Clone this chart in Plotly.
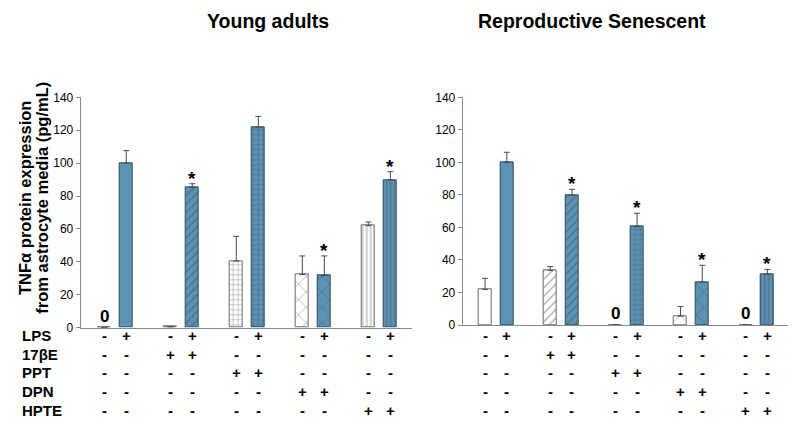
import plotly.graph_objects as go

# ---------------- data ----------------
slots = [0, 1, 3, 4, 6, 7, 9, 10, 12, 13]
young_mean = [0, 100, 0.6, 85.3, 40.5, 121.8, 32.4, 31.8, 62.0, 89.7]
young_err = [None, 7.6, None, 2.2, 15.0, 6.6, 11.2, 11.8, 2.2, 5.1]
sen_mean = [21.9, 100, 33.6, 79.7, 0, 60.5, 5.5, 26.4, 0, 31.2]
sen_err = [6.8, 6.2, 2.3, 3.7, None, 8.2, 5.8, 10.3, None, 3.0]

young_star = [3, 7, 9]
sen_star = [3, 5, 7, 9]
young_zero = [0]
sen_zero = [4, 8]

row_labels = ["LPS", "17βE", "PPT", "DPN", "HPTE"]
rows = [
    ["-", "+", "-", "+", "-", "+", "-", "+", "-", "+"],
    ["-", "-", "+", "+", "-", "-", "-", "-", "-", "-"],
    ["-", "-", "-", "-", "+", "+", "-", "-", "-", "-"],
    ["-", "-", "-", "-", "-", "-", "+", "+", "-", "-"],
    ["-", "-", "-", "-", "-", "-", "-", "-", "+", "+"],
]
yticks = [0, 20, 40, 60, 80, 100, 120, 140]
titles = ["Young adults", "Reproductive Senescent"]
ytitle_lines = ["TNFα protein expression", "from astrocyte media (pg/mL)"]

# ---------------- styles ----------------
BLUE = "#5b93b5"
shapes = ["", "", "/", "/", "+", "+", "x", "x", "|", "|"]
sizes = [6, 6, 6, 6, 5, 5, 11, 11, 4, 4]
solid = [0.2, 0.2, 0.2, 0.2, 0.22, 0.22, 0.12, 0.12, 0.25, 0.25]
fills = [("white" if r == "-" else BLUE) for r in rows[0]]
fgs = [("#3a3a3a" if r == "-" else "#17344a") for r in rows[0]]
edges = [("#6b6b6b" if r == "-" else "#2c4a5e") for r in rows[0]]
AX = "#8a8a8a"
FONT = "Arial, Liberation Sans, sans-serif"
W, H = 800, 432


def px_x(v):
    return v / W


def px_y(v):
    return 1 - v / H


def bar_trace(means, errs, xa, ya):
    return go.Bar(
        x=slots, y=means, xaxis=xa, yaxis=ya, width=0.6,
        marker=dict(color=fills, line=dict(color=edges, width=1),
                    pattern=dict(shape=shapes, size=sizes, fgcolor=fgs,
                                 solidity=solid, fillmode="overlay")),
        error_y=dict(type="data", symmetric=False, array=errs,
                     arrayminus=[0] * len(errs), color="#4a4a4a",
                     thickness=1, width=3),
        showlegend=False, hoverinfo="skip",
    )


fig = go.Figure()
fig.add_trace(bar_trace(young_mean, young_err, "x", "y"))
fig.add_trace(bar_trace(sen_mean, sen_err, "x2", "y2"))

ann = []
# stars
for means, errs, stars, xr, yr in [(young_mean, young_err, young_star, "x", "y"),
                                   (sen_mean, sen_err, sen_star, "x2", "y2")]:
    for i in stars:
        ann.append(dict(x=slots[i], y=means[i] + (errs[i] or 0), xref=xr, yref=yr,
                        text="<b>*</b>", showarrow=False, xanchor="center",
                        yanchor="bottom", yshift=-7,
                        font=dict(size=19, color="black", family=FONT)))
# zero labels
for zs, xr, yr in [(young_zero, "x", "y"), (sen_zero, "x2", "y2")]:
    for i in zs:
        ann.append(dict(x=slots[i], y=0, xref=xr, yref=yr, text="<b>0</b>",
                        showarrow=False, xanchor="center", yanchor="bottom",
                        yshift=0, font=dict(size=17, color="black", family=FONT)))

# condition table
row_y = [335, 354, 372.5, 391.5, 410.5]
for lbl, ypix in zip(row_labels, row_y):
    ann.append(dict(x=px_x(20), y=px_y(ypix), xref="paper", yref="paper",
                    text=f"<b>{lbl}</b>", showarrow=False, xanchor="left",
                    yanchor="middle", font=dict(size=15, color="black", family=FONT)))
for r, ypix in zip(rows, row_y):
    for xr in ["x", "x2"]:
        for s, sign in zip(slots, r):
            ann.append(dict(x=s, y=px_y(ypix), xref=xr, yref="paper",
                            text=f"<b>{sign}</b>", showarrow=False,
                            xanchor="center", yanchor="middle",
                            font=dict(size=15, color="black", family=FONT)))

# titles
for t, cx in zip(titles, [267.5, 592]):
    ann.append(dict(x=px_x(cx), y=px_y(20.5), xref="paper", yref="paper",
                    text=f"<b>{t}</b>", showarrow=False, xanchor="center",
                    yanchor="middle", font=dict(size=19.5, color="black", family=FONT)))
# y title (two lines)
for line, cx in zip(ytitle_lines, [25, 41.7]):
    ann.append(dict(x=px_x(cx), y=px_y(198), xref="paper", yref="paper",
                    text=f"<b>{line}</b>", showarrow=False, textangle=-90,
                    xanchor="center", yanchor="middle",
                    font=dict(size=16.5, color="black", family=FONT)))

xcommon = dict(showline=True, linecolor=AX, linewidth=1, showticklabels=False,
               ticks="", showgrid=False, zeroline=False, automargin=False)
ycommon = dict(showline=True, linecolor=AX, linewidth=1, ticks="outside",
               ticklen=4, tickcolor=AX, tickvals=yticks, range=[0, 140],
               showgrid=False, zeroline=False, automargin=False,
               tickfont=dict(size=12, color="black", family=FONT),
               tickprefix="<b>", ticksuffix="</b>")

fig.update_layout(
    width=W, height=H, margin=dict(l=0, r=0, t=0, b=0, pad=0, autoexpand=False),
    paper_bgcolor="white", plot_bgcolor="white",
    font=dict(family=FONT, color="black"),
    bargap=0,
    xaxis=dict(domain=[px_x(80.7), px_x(411.7)], range=[-1.07, 13.97], anchor="y", **xcommon),
    yaxis=dict(domain=[px_y(327.7), px_y(97.3)], anchor="x", **ycommon),
    xaxis2=dict(domain=[px_x(462.7), px_x(788.3)], range=[-1.03, 13.96], anchor="y2", **xcommon),
    yaxis2=dict(domain=[px_y(325), px_y(97.3)], anchor="x2", **ycommon),
    annotations=ann,
)

fig.write_html("out.html",
               config={"displayModeBar": False},
               post_script="document.body.style.margin='0px';"
                           "document.body.style.overflow='hidden';")
